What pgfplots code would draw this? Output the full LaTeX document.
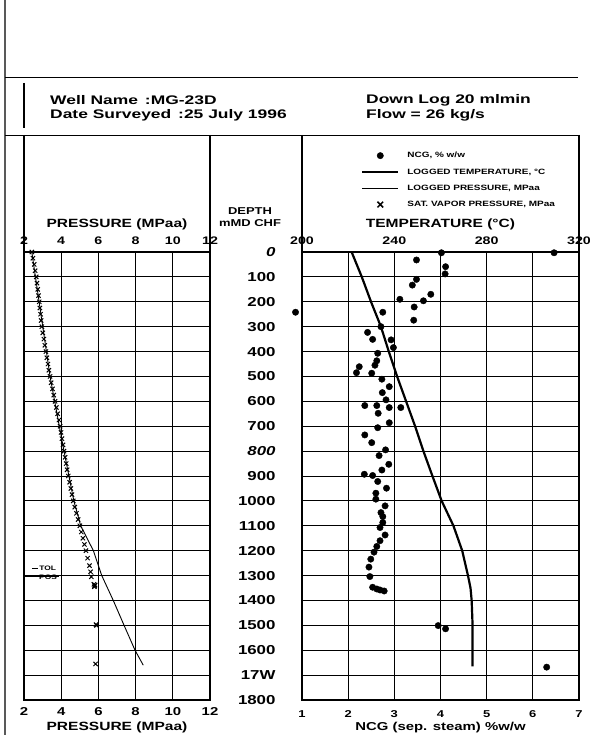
\documentclass[border=0pt]{standalone}
\usepackage{pgfplots}
\pgfplotsset{compat=1.18}
\usepackage{fontspec}
\setmainfont{Liberation Sans}[FakeStretch=1.3]
\newfontfamily\tfont{Liberation Sans}[FakeStretch=1.4]

\pgfplotstableread{
d p
0 2.42
25 2.48
50 2.55
75 2.60
100 2.66
125 2.70
150 2.74
175 2.78
200 2.82
225 2.85
250 2.89
275 2.92
300 2.96
325 3.01
350 3.07
375 3.12
400 3.18
425 3.23
450 3.29
475 3.34
500 3.40
525 3.46
550 3.53
575 3.60
600 3.67
625 3.74
650 3.81
675 3.88
700 3.94
725 3.99
750 4.04
775 4.10
800 4.15
825 4.21
850 4.27
875 4.32
900 4.38
925 4.45
950 4.52
975 4.58
1000 4.65
1025 4.73
1050 4.82
1075 4.91
1100 5.00
1125 5.08
1150 5.17
1175 5.25
1200 5.33
1230 5.42
1260 5.52
1285 5.58
1305 5.62
1335 5.76
1338 5.82
1340 5.80
1345 5.78
1497 5.87
1500 5.90
1655 5.85
}\satp

\pgfplotstableread{
d p
0 2.42
500 3.40
800 4.15
1000 4.68
1100 5.05
1200 5.73
1300 6.18
1400 6.80
1500 7.38
1600 7.97
1660 8.41
}\logp

\pgfplotstableread{
d t
0 221.5
100 225.9
200 229.9
300 234.2
400 237.6
500 241.2
600 245.1
700 249.0
800 252.6
900 256.5
1000 260.5
1100 265.6
1200 269.4
1300 271.9
1350 273.0
1400 273.5
1500 273.9
1665 273.9
}\temp

\pgfplotstableread{
d n
3 4.02
3 6.46
32 3.48
59 4.11
88 4.10
110 3.48
133 3.39
170 3.79
190 3.12
196 3.63
221 3.43
242 0.86
242 2.75
274 3.42
300 2.71
323 2.42
351 2.53
353 2.93
384 2.98
407 2.64
437 2.62
455 2.58
461 2.24
485 2.18
487 2.51
511 2.73
541 2.89
565 2.74
594 2.82
617 2.36
617 2.62
625 2.89
625 3.14
648 2.65
686 2.89
706 2.64
735 2.36
766 2.51
795 2.81
818 2.67
853 2.88
876 2.73
893 2.35
898 2.53
922 2.64
949 2.83
969 2.60
993 2.60
1020 2.80
1047 2.71
1063 2.75
1087 2.75
1107 2.69
1137 2.80
1160 2.69
1183 2.62
1206 2.56
1234 2.49
1266 2.45
1304 2.47
1347 2.53
1354 2.62
1358 2.69
1362 2.78
1501 3.95
1514 4.11
1668 6.30
}\ncg

\begin{document}
\begin{tikzpicture}
\useasboundingbox (0,0) rectangle (590bp,735bp);
\pgfplotsset{
  panel/.style={
    scale only axis, height=448bp, ymin=0, ymax=1800, y dir=reverse,
    ytick={0,100,...,1800}, major tick length=0pt,
    axis line style={line width=1.1pt},
    /pgf/number format/assume math mode=true,
    clip=false,
  },
  gridded/.style={grid=major, major grid style={black, line width=0.8pt}},
  overlay/.style={axis line style={draw=none}, ytick=\empty, grid=none},
}
% ---------- left panel ----------
\begin{axis}[panel, gridded, at={(24bp,35bp)}, anchor=south west, width=186bp,
  xmin=2, xmax=12, xtick={2,4,...,12}, yticklabels={},
  xticklabel pos=lower,
  xticklabel style={font=\fontsize{11.5}{13}\selectfont\bfseries, yshift=-4bp},
  xlabel={PRESSURE (MPaa)},
  xlabel style={font=\fontsize{12}{13}\selectfont\bfseries, yshift=1bp},
]
\addplot[black, line width=0.9pt] table[x=p, y=d] {\logp};
\addplot[only marks, mark=x, mark size=3bp, black, line width=1pt] table[x=p, y=d] {\satp};
\draw[line width=0.8pt] (axis cs:2.43,1270) -- (axis cs:2.75,1270)
  node[anchor=west, inner sep=1bp, font=\fontsize{6.5}{7}\selectfont\bfseries] {TOL};
\node[anchor=west, inner sep=1bp, font=\fontsize{6.5}{7}\selectfont\bfseries] at (axis cs:2.75,1305) {POS};
\draw[line width=1pt] (axis cs:2.05,1305) -- (axis cs:3.9,1305);
\end{axis}
\begin{axis}[panel, overlay, at={(24bp,35bp)}, anchor=south west, width=186bp,
  xmin=2, xmax=12, xtick={2,4,...,12},
  xticklabel pos=upper,
  xticklabel style={font=\fontsize{11}{13}\selectfont\bfseries, yshift=4bp},
  xlabel={PRESSURE (MPaa)},
  xlabel style={font=\fontsize{12}{13}\selectfont\bfseries, yshift=0bp},
]
\addplot[draw=none] coordinates {(2,0) (12,1800)};
\end{axis}
% ---------- right panel ----------
\begin{axis}[panel, gridded, at={(302bp,35bp)}, anchor=south west, width=277bp,
  xmin=1, xmax=7, xtick={1,...,7},
  xticklabel pos=lower,
  xticklabel style={font=\fontsize{10}{11}\selectfont\bfseries, yshift=-7bp},
  xlabel={NCG (sep. steam) \%w/w},
  xlabel style={font=\fontsize{11.5}{12}\selectfont\bfseries, yshift=2bp},
  yticklabels={\textit{0},100,200,300,400,500,600,700,\textit{800},900,1000,1100,1200,1300,1400,1500,1600,17W,1800},
  yticklabel style={font=\fontsize{13}{14}\selectfont\bfseries, anchor=east, xshift=-23bp},
]
\addplot[only marks, mark=*, mark size=3.2bp, black] table[x=n, y=d] {\ncg};
\end{axis}
\begin{axis}[panel, overlay, at={(302bp,35bp)}, anchor=south west, width=277bp,
  xmin=200, xmax=320, xtick={200,240,280,320},
  xticklabel pos=upper,
  xticklabel style={font=\fontsize{11}{13}\selectfont\bfseries, yshift=4bp},
  xlabel={TEMPERATURE (°C)},
  xlabel style={font=\fontsize{12}{13}\selectfont\bfseries, yshift=0bp},
  legend image code/.code={\draw[mark repeat=2, mark phase=2, #1] plot coordinates {(0bp,0bp) (18bp,0bp) (36bp,0bp)};},
  legend cell align=left,
  legend style={at={(0.213,1.225)}, anchor=north west, draw=none, fill=none, inner sep=0pt,
    font=\fontsize{7.7}{8}\selectfont\bfseries, row sep=7.8bp,
    nodes={inner sep=1bp, text height=5.5bp, text depth=1bp},
    /tikz/every odd column/.append style={column sep=7bp}},
]
\addlegendimage{only marks, mark=*, mark size=3.2bp, black}
\addlegendentry{NCG, \% w/w}
\addlegendimage{black, line width=2.2pt}
\addlegendentry{LOGGED TEMPERATURE, °C}
\addlegendimage{black, line width=0.9pt}
\addlegendentry{LOGGED PRESSURE, MPaa}
\addlegendimage{only marks, mark=x, mark size=4bp, black, line width=1.5pt}
\addlegendentry{SAT. VAPOR PRESSURE, MPaa}
\addplot[black, line width=2.2pt, forget plot] table[x=t, y=d] {\temp};
\end{axis}
% ---------- frame and header ----------
\begin{scope}[x=1bp, y=-1bp, shift={(0,735bp)}]
\draw[gray!70!black, line width=1.6pt] (5,0) -- (5,735);
\draw[line width=0.9pt] (5,77) -- (578,77);
\draw[line width=1.6pt] (24,83) -- (24,128);
\draw[line width=0.9pt] (5,135) -- (580,135);
\draw[line width=1.1pt] (24,135) -- (24,252);
\draw[line width=1.1pt] (210,135) -- (210,252);
\draw[line width=1.1pt] (302,135) -- (302,252);
\draw[line width=1.1pt] (579,135) -- (579,252);
\node[anchor=west, inner sep=0pt, font=\fontsize{12.5}{14}\tfont\bfseries] at (50,100) {Well Name \,:MG-23D};
\node[anchor=west, inner sep=0pt, font=\fontsize{12.5}{14}\tfont\bfseries] at (50,115) {Date Surveyed \,:25 July 1996};
\node[anchor=west, inner sep=0pt, font=\fontsize{12.5}{14}\tfont\bfseries] at (366,100) {Down Log 20 mlmin};
\node[anchor=west, inner sep=0pt, font=\fontsize{12.5}{14}\tfont\bfseries] at (366,115) {Flow = 26 kg/s};
\node[inner sep=0pt, font=\fontsize{10}{11}\selectfont\bfseries] at (250,211) {DEPTH};
\node[inner sep=0pt, font=\fontsize{10}{11}\selectfont\bfseries] at (250,223) {mMD CHF};
\end{scope}
\end{tikzpicture}
\end{document}
